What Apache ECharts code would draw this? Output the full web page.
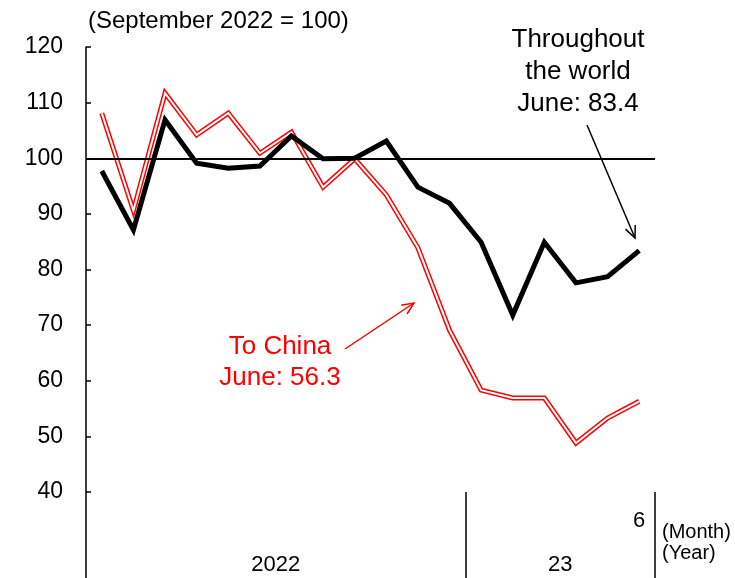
<!DOCTYPE html>
<html>
<head>
<meta charset="utf-8">
<script src="https://cdn.jsdelivr.net/npm/echarts@6/dist/echarts.min.js"></script>
<style>
  html, body { margin: 0; padding: 0; background: #fff; }
  #chart { width: 735px; height: 578px; }
</style>
</head>
<body>
<div id="chart"></div>
<script>
// Jan 2022 .. Jun 2023, index (Sep 2022 = 100)
const months = ['1', '2', '3', '4', '5', '6', '7', '8', '9', '10', '11', '12', '1', '2', '3', '4', '5', '6']
const years = ['2022', '23']
const yearMonths = [12, 6]
const world = [97.7, 87.1, 106.9, 99.1, 98.2, 98.6, 104.0, 99.9, 100.0, 103.1, 94.8, 91.9, 84.9, 71.8, 84.9, 77.6, 78.7, 83.4]
const china = [108.1, 90.6, 111.7, 104.2, 108.1, 100.9, 104.7, 94.8, 99.9, 93.4, 83.9, 69.1, 58.3, 56.9, 56.9, 48.8, 53.3, 56.3]

const FONT = '"Liberation Sans", Arial, sans-serif'

// middle of each year's block, in month units
const yearMid = {}
let acc = 0
yearMonths.forEach((n, i) => { yearMid[acc + n / 2] = years[i]; acc += n })

// open arrow: shaft + two head strokes
function arrow(x1, y1, x2, y2, color) {
  const a = Math.atan2(y2 - y1, x2 - x1)
  const len = 13, spread = 0.42
  const head = s => [x2 - len * Math.cos(a + s), y2 - len * Math.sin(a + s)]
  const style = { stroke: color, lineWidth: 1.5 }
  return {
    type: 'group',
    children: [
      { type: 'line', shape: { x1, y1, x2, y2 }, style },
      { type: 'polyline', shape: { points: [head(spread), [x2, y2], head(-spread)] }, style }
    ]
  }
}

const chart = echarts.init(document.getElementById('chart'))
chart.setOption({
  animation: false,
  textStyle: { fontFamily: FONT },
  grid: { left: 86, right: 80, top: 47, bottom: 86 },
  xAxis: [{
    type: 'category',
    data: months,
    boundaryGap: true,
    axisLine: { show: false },
    axisTick: {
      show: true, length: 86,
      interval: i => i === 0 || i === 12,
      lineStyle: { color: '#000', width: 1.5 }
    },
    axisLabel: {
      interval: i => i === months.length - 1,
      margin: 18, fontSize: 22, color: '#000', fontFamily: FONT
    },
    splitLine: { show: false }
  }, {
    type: 'value',
    position: 'bottom',
    min: 0, max: months.length, interval: 3,
    axisLine: { show: false },
    axisTick: { show: false },
    splitLine: { show: false },
    axisLabel: {
      margin: 62, fontSize: 22, color: '#000', fontFamily: FONT,
      formatter: v => yearMid[v] || ''
    }
  }],
  yAxis: {
    type: 'value',
    min: 40, max: 120, interval: 10,
    name: '(September 2022 = 100)',
    nameLocation: 'end',
    nameGap: 26,
    nameTextStyle: { align: 'left', verticalAlign: 'middle', fontSize: 24, color: '#000', fontFamily: FONT, padding: [0, 0, 0, 2] },
    axisLine: { show: true, lineStyle: { color: '#000', width: 1.5 } },
    axisTick: { show: true, inside: true, length: 5, lineStyle: { color: '#000', width: 1.5 } },
    axisLabel: { fontSize: 23, color: '#000', margin: 23, fontFamily: FONT },
    splitLine: { show: false }
  },
  series: [{
    name: 'To China',
    type: 'line',
    data: china,
    symbol: 'none',
    lineStyle: { color: '#ff0000', width: 5, join: 'miter' },
    markLine: {
      silent: true, symbol: 'none', label: { show: false },
      lineStyle: { color: '#000', width: 2, type: 'solid' },
      data: [{ yAxis: 100 }]
    }
  }, {
    name: 'To China inner',
    type: 'line',
    data: china,
    symbol: 'none',
    lineStyle: { color: '#fff', width: 2, join: 'miter' }
  }, {
    name: 'Throughout the world',
    type: 'line',
    data: world,
    symbol: 'none',
    lineStyle: { color: '#000', width: 5, join: 'miter' }
  }],
  graphic: [
    {
      type: 'text', x: 578, y: 24,
      style: { text: 'Throughout\nthe world\nJune: 83.4', font: '26px ' + FONT, fill: '#000', align: 'center', lineHeight: 32 }
    },
    {
      type: 'text', x: 280, y: 331,
      style: { text: 'To China\nJune: 56.3', font: '26px ' + FONT, fill: '#ff0000', align: 'center', lineHeight: 31 }
    },
    {
      type: 'text', x: 662, y: 522,
      style: { text: '(Month)\n(Year)', font: '20px ' + FONT, fill: '#000', align: 'left', lineHeight: 21 }
    },
    arrow(587, 125, 635, 238, '#000'),
    arrow(345, 349, 414, 303, '#ff0000')
  ]
})
</script>
</body>
</html>
